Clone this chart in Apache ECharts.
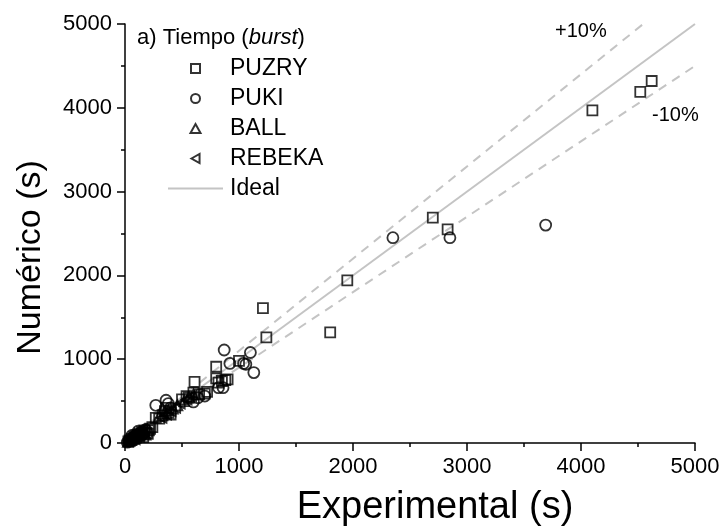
<!DOCTYPE html>
<html>
<head>
<meta charset="utf-8">
<script src="https://cdn.jsdelivr.net/npm/echarts@6.0.0/dist/echarts.min.js"></script>
<style>
  html, body { margin: 0; padding: 0; background: #fff; }
  #chart { width: 722px; height: 532px; }
</style>
</head>
<body>
<div id="chart"></div>
<script>
// [experimental, numérico] en segundos
const puzry = [
  [30, 20], [40, 30], [60, 50], [80, 70], [100, 90], [120, 100], [150, 130],
  [160, 70], [170, 150], [190, 120], [200, 110], [210, 150], [220, 170],
  [240, 190], [270, 300], [300, 290], [330, 330], [350, 380], [360, 420],
  [380, 360], [400, 340], [500, 520], [540, 560], [560, 540], [600, 600],
  [610, 730], [650, 580], [700, 590], [720, 610], [800, 910], [800, 770],
  [820, 720], [850, 740], [880, 750], [900, 760], [1000, 980], [1210, 1610],
  [1240, 1260], [1800, 1320], [1950, 1940], [2700, 2690], [2830, 2550],
  [4100, 3970], [4520, 4190], [4620, 4320]
];
const puki = [
  [20, 10], [35, 25], [50, 30], [60, 90], [65, 45], [70, 60], [90, 80],
  [100, 55], [110, 100], [115, 140], [130, 120], [145, 90], [160, 110],
  [180, 160], [270, 450], [360, 510], [380, 470], [400, 420], [600, 490],
  [640, 540], [700, 560], [820, 660], [860, 660], [870, 1110], [920, 950],
  [1040, 950], [1060, 940], [1100, 1080], [1130, 840], [2350, 2450],
  [2850, 2450], [3690, 2600]
];
const ball = [
  [25, 15], [40, 30], [45, 70], [55, 35], [60, 50], [80, 70], [85, 110],
  [95, 65], [100, 90], [120, 110], [140, 130], [160, 150], [180, 100],
  [300, 320], [340, 350], [380, 390], [420, 410], [460, 450], [520, 500],
  [560, 550], [600, 580]
];
const rebeka = [
  [30, 25], [50, 40], [70, 60], [75, 100], [85, 45], [90, 80], [110, 100],
  [125, 75], [130, 120], [150, 160], [170, 130], [320, 300], [360, 340],
  [400, 380], [440, 420], [480, 470], [540, 520], [580, 560]
];
const ideal = [[0, 0], [5000, 5000]];
const plus10 = [[0, 0], [4545, 5000]];
const minus10 = [[0, 0], [5000, 4500]];
const axisTicks = { min: 0, max: 5000, interval: 1000 };

const FONT = 'Liberation Sans, Arial, sans-serif';
const gray = '#c4c4c4';
const squarePath = 'path://M0,0L10,0L10,10L0,10Z';
const triUpPath = 'path://M5,0L10,9L0,9Z';
const triLeftPath = 'path://M0,5L9,0L9,10Z';
const linePath = 'path://M0,0L55,0L55,2L0,2Z';

function scatter(name, data, symbol, size, rotate) {
  return {
    name: name,
    type: 'scatter',
    data: data,
    symbol: symbol,
    symbolSize: size,
    symbolRotate: rotate || 0,
    itemStyle: { color: 'rgba(0,0,0,0)', borderColor: '#000', borderWidth: 1.8 },
    z: 3
  };
}

function refLine(name, data, type) {
  return {
    name: name,
    type: 'line',
    data: data,
    symbol: 'none',
    silent: true,
    itemStyle: { color: gray },
    lineStyle: { color: gray, width: 2, type: type },
    z: 2
  };
}

const axisCommon = {
  type: 'value',
  min: axisTicks.min,
  max: axisTicks.max,
  interval: axisTicks.interval,
  axisLine: { show: true, onZero: false, lineStyle: { color: '#000', width: 1.5 } },
  axisTick: { show: true, length: 8, lineStyle: { color: '#000', width: 1.5 } },
  minorTick: { show: true, splitNumber: 2, length: 4, lineStyle: { color: '#000', width: 1.5 } },
  splitLine: { show: false },
  axisLabel: { color: '#000', fontSize: 22, fontFamily: FONT, margin: 13, formatter: (v) => String(v) },
  nameLocation: 'middle'
};

const chart = echarts.init(document.getElementById('chart'), null, { renderer: 'canvas' });
chart.setOption({
  backgroundColor: '#fff',
  animation: false,
  grid: { left: 125, right: 27, top: 24, bottom: 89, containLabel: false, outerBoundsMode: 'none' },
  xAxis: Object.assign({}, axisCommon, {
    name: 'Experimental (s)', nameGap: 46,
    nameTextStyle: { color: '#000', fontSize: 38, fontFamily: FONT, padding: [0, 0, 0, 50] }
  }),
  yAxis: Object.assign({}, axisCommon, {
    name: 'Numérico (s)', nameGap: 77,
    nameTextStyle: { color: '#000', fontSize: 34, fontFamily: FONT, padding: [0, 48, 0, 0] }
  }),
  legend: {
    orient: 'vertical',
    left: 163,
    top: 52,
    itemWidth: 55,
    itemHeight: 9,
    itemGap: 7,
    data: [
      { name: 'PUZRY', icon: squarePath },
      { name: 'PUKI', icon: 'circle' },
      { name: 'BALL', icon: triUpPath },
      { name: 'REBEKA', icon: triLeftPath },
      { name: 'Ideal', icon: linePath }
    ],
    textStyle: { color: '#000', fontSize: 23, fontFamily: FONT, padding: [0, 0, 0, 2] },
    selectedMode: false
  },
  graphic: [
    {
      type: 'text', left: 137, top: 27,
      style: {
        text: 'a) Tiempo ({it|burst})',
        fill: '#000', fontSize: 22, fontFamily: FONT,
        rich: { it: { fontStyle: 'italic', fontSize: 22, fontFamily: FONT, fill: '#000' } }
      }
    },
    { type: 'text', left: 555, top: 21, style: { text: '+10%', fill: '#000', fontSize: 20, fontFamily: FONT } },
    { type: 'text', left: 652, top: 105, style: { text: '-10%', fill: '#000', fontSize: 20, fontFamily: FONT } }
  ],
  series: [
    refLine('Ideal', ideal, 'solid'),
    refLine('+10%', plus10, [9, 7]),
    refLine('-10%', minus10, [9, 7]),
    scatter('PUZRY', puzry, 'rect', 10),
    scatter('PUKI', puki, 'circle', 11),
    scatter('BALL', ball, 'triangle', 10),
    scatter('REBEKA', rebeka, 'triangle', 10, 90)
  ]
});
</script>
</body>
</html>
